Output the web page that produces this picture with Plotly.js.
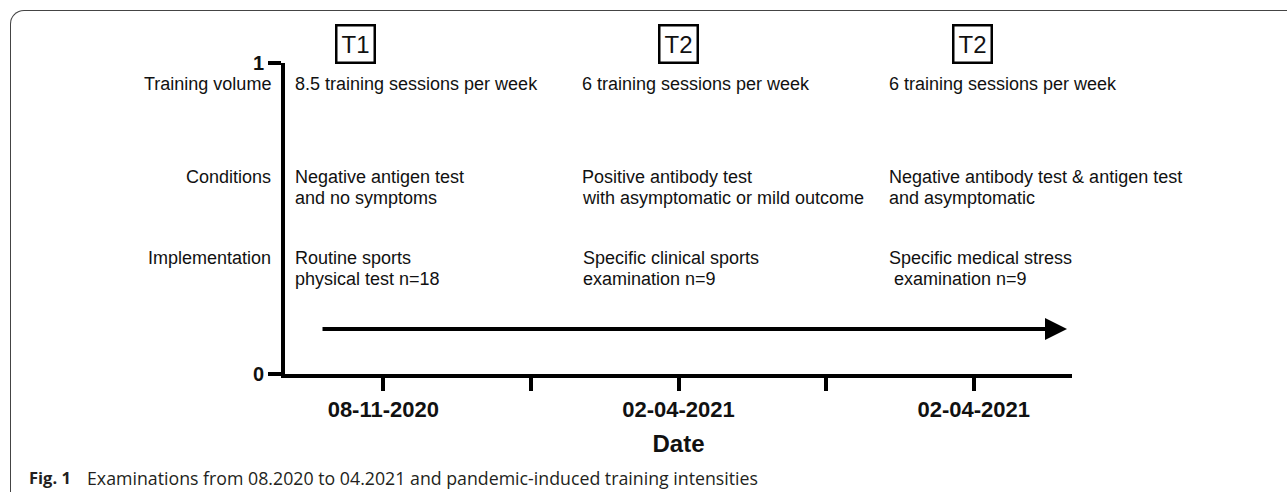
<!DOCTYPE html>
<html><head><meta charset="utf-8">
<script src="https://cdn.plot.ly/plotly-3.0.1.min.js"></script>
<style>
html,body{margin:0;padding:0;background:#fff;overflow:hidden;}
#frame{position:absolute;left:10px;top:10px;width:1400px;height:600px;border-top:1.5px solid #444;border-left:1.5px solid #444;border-top-left-radius:14px;box-sizing:border-box;}
#chart{position:absolute;left:0;top:0;width:1287px;height:492px;}
</style></head><body>
<div id="frame"></div><div id="chart"></div>
<script>
// ---- data ----
const dates = ['08-11-2020', '02-04-2021', '02-04-2021'];
const timepoints = ['T1', 'T2', 'T2'];
const rowLabels = ['Training volume', 'Conditions', 'Implementation'];
const trainingVolume = [['8.5 training sessions per week'], ['6 training sessions per week'], ['6 training sessions per week']];
const conditions = [['Negative antigen test', 'and no symptoms'], ['Positive antibody test', 'with asymptomatic or mild outcome'], ['Negative antibody test & antigen test', 'and asymptomatic']];
const implementation = [['Routine sports', 'physical test n=18'], ['Specific clinical sports', 'examination n=9'], ['Specific medical stress', '\u00a0examination n=9']];
const yTickVals = [0, 1];
const yTickText = ['0', '1'];
const captionLabel = 'Fig. 1';
const captionText = 'Examinations from 08.2020 to 04.2021 and pandemic-induced training intensities';

// ---- layout helpers (positions only) ----
const datePos = [1, 2, 3];
const tickVals = [1, 1.5, 2, 2.5, 3];
const tickText = [dates[0], '', dates[1], '', dates[2]];
const colX = [0.694, 1.665, 2.707];
const boxX = [0.905, 2.0, 2.996];
const rowY = [0.932, 0.633, 0.373];
const lineGap = 21;
const FONT = 'Liberation Sans, Arial, sans-serif';

const annotations = [];
rowLabels.forEach((t, i) => annotations.push({
  xref: 'paper', yref: 'y', x: -0.0155, y: rowY[i], xanchor: 'right', yanchor: 'middle',
  text: t, showarrow: false, font: {family: FONT, size: 18, color: '#111'}
}));
[trainingVolume, conditions, implementation].forEach((rows, r) => {
  rows.forEach((lines, c) => {
    lines.forEach((ln, k) => annotations.push({
      xref: 'x', yref: 'y', x: colX[c] + (r === 2 && c === 1 ? 0.006 : 0), y: rowY[r], yshift: -k * lineGap,
      xanchor: 'left', yanchor: 'middle', align: 'left',
      text: ln, showarrow: false, font: {family: FONT, size: 18, color: '#111'}
    }));
  });
});
timepoints.forEach((t, i) => annotations.push({
  xref: 'x', yref: 'paper', x: boxX[i], y: 1.061, xanchor: 'center', yanchor: 'middle',
  text: t, showarrow: false, font: {family: FONT, size: 24, color: '#111'},
  bordercolor: '#000', borderwidth: 2.5, borderpad: 4
}));
// timeline arrow
annotations.push({
  xref: 'x', yref: 'y', x: 3.316, y: 0.145, axref: 'x', ayref: 'y', ax: 0.789, ay: 0.145,
  text: '', showarrow: true, arrowhead: 2, arrowsize: 1.1, arrowwidth: 4, arrowcolor: '#000'
});
// caption
annotations.push({
  xref: 'paper', yref: 'paper', x: -0.328, y: -0.334, xanchor: 'left', yanchor: 'middle',
  text: '<b>' + captionLabel + '</b>', showarrow: false, align: 'left',
  font: {family: 'Open Sans, sans-serif', size: 16.5, color: '#231f20'}
});
annotations.push({
  xref: 'paper', yref: 'paper', x: -0.2535, y: -0.334, xanchor: 'left', yanchor: 'middle',
  text: captionText, showarrow: false, align: 'left',
  font: {family: 'Open Sans, sans-serif', size: 17.75, color: '#231f20'}
});

const trace = {
  x: datePos, y: [0, 0, 0], mode: 'markers', type: 'scatter',
  marker: {opacity: 0}, hoverinfo: 'skip', showlegend: false
};

const layout = {
  width: 1287, height: 492,
  margin: {l: 285, r: 215, t: 63, b: 118, pad: 0},
  paper_bgcolor: 'rgba(0,0,0,0)', plot_bgcolor: 'rgba(0,0,0,0)',
  showlegend: false,
  xaxis: {
    range: [0.667, 3.333], tickmode: 'array', tickvals: tickVals, ticktext: tickText,
    ticks: 'outside', ticklen: 13, tickwidth: 4, tickcolor: '#000',
    showline: true, linewidth: 4, linecolor: '#000', showgrid: false, zeroline: false,
    tickfont: {family: FONT, size: 22, weight: 'bold', color: '#111'},
    title: {text: 'Date', font: {family: FONT, size: 24, weight: 'bold', color: '#111'}, standoff: 15},
    automargin: false, fixedrange: true
  },
  yaxis: {
    range: [0, 1], tickmode: 'array', tickvals: yTickVals, ticktext: yTickText,
    ticks: 'outside', ticklen: 13, tickwidth: 4, tickcolor: '#000',
    showline: true, linewidth: 4, linecolor: '#000', showgrid: false, zeroline: false,
    tickfont: {family: FONT, size: 20, weight: 'bold', color: '#111'},
    automargin: false, fixedrange: true
  },
  annotations: annotations
};

Plotly.newPlot('chart', [trace], layout, {displayModeBar: false, staticPlot: true});
</script>
</body></html>
